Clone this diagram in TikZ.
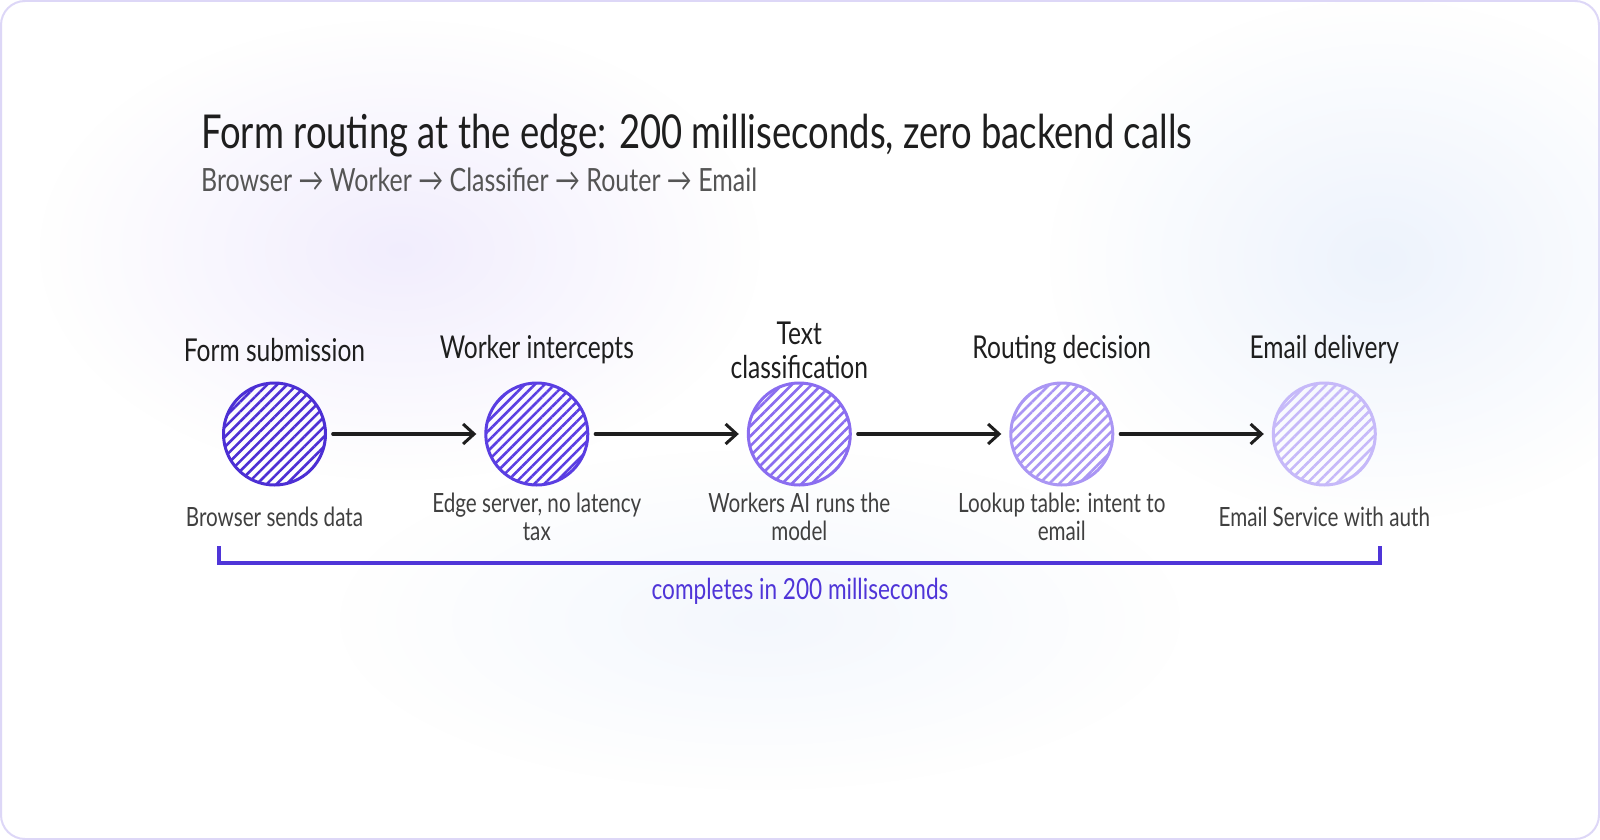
\documentclass[tikz,border=0pt]{standalone}
\usepackage{fontspec}
\setmainfont[FakeStretch=0.78]{Lato}
\usepackage{tikz}
\usetikzlibrary{arrows.meta,positioning,patterns.meta,fadings}
\definecolor{ink}{HTML}{1E1E1E}
\definecolor{greytxt}{HTML}{555555}
\definecolor{desctxt}{HTML}{404040}
\definecolor{indigo}{HTML}{4F35D8}
\definecolor{frame}{HTML}{DDD7F7}
\definecolor{lav}{HTML}{EEE9FD}
\definecolor{sky}{HTML}{E9F0FC}
\definecolor{c1}{HTML}{4C2FD4}
\definecolor{c2}{HTML}{5A3EE2}
\definecolor{c3}{HTML}{8A6DF0}
\definecolor{c4}{HTML}{AA96F4}
\definecolor{c5}{HTML}{C6B9F9}
\tikzfading[name=blob, inner color=transparent!0, outer color=transparent!100]
\tikzstyle{stage} = [circle, minimum size=102pt, inner sep=0pt, line width=3pt]
\tikzstyle{ttl} = [anchor=base west, inner sep=0pt, font=\fontsize{46.7}{52}\selectfont, text=ink]
\tikzstyle{sub} = [anchor=base west, inner sep=0pt, font=\fontsize{32}{36}\selectfont, text=greytxt]
\tikzstyle{lbl} = [align=center, inner sep=0pt, font=\fontsize{31.5}{34}\selectfont, text=ink]
\tikzstyle{dsc} = [align=center, inner sep=0pt, font=\fontsize{26.5}{27.5}\selectfont, text=desctxt]
\tikzstyle{flow} = [-{Straight Barb[length=11pt,width=20pt,line width=3pt]}, line width=3.2pt, ink, line cap=round, shorten <=6pt, shorten >=8pt]
\tikzstyle{brk} = [line width=3.5pt, indigo]
\tikzstyle{note} = [inner sep=0pt, font=\fontsize{29}{32}\selectfont, text=indigo]
\begin{document}
\begin{tikzpicture}[x=1pt, y=-1pt]
		\useasboundingbox (0,0) rectangle (1600,840);
		\draw[rounded corners=24pt, line width=2pt, frame, fill=white] (1,1) rectangle (1599,839);
		\fill[lav, path fading=blob, opacity=0.8] (400,250) ellipse (360 and 230);
		\fill[sky, path fading=blob, opacity=0.8] (1380,260) ellipse (330 and 260);
		\fill[sky, path fading=blob, opacity=0.5] (760,620) ellipse (420 and 170);

		\node[ttl] (title) at (201,148) {Form routing at the edge: 200 milliseconds, zero backend calls};
		\node[sub] (subtitle) at (201,191) {Browser → Worker → Classifier → Router → Email};

		\node[stage, draw=c1, pattern={Lines[angle=45,distance=7pt,line width=2.6pt]}, pattern color=c1] (s1) at (274.5,434) {};
		\node[stage, draw=c2, pattern={Lines[angle=45,distance=7pt,line width=2.6pt]}, pattern color=c2, right=157.5pt of s1] (s2) {};
		\node[stage, draw=c3, pattern={Lines[angle=45,distance=7pt,line width=2.6pt]}, pattern color=c3, right=157.5pt of s2] (s3) {};
		\node[stage, draw=c4, pattern={Lines[angle=45,distance=7pt,line width=2.6pt]}, pattern color=c4, right=157.5pt of s3] (s4) {};
		\node[stage, draw=c5, pattern={Lines[angle=45,distance=7pt,line width=2.6pt]}, pattern color=c5, right=157.5pt of s4] (s5) {};

		\node[lbl, above=84pt of s1.center, anchor=center] (t1) {Form submission};
		\node[lbl, above=84pt of s2.center, anchor=center] (t2) {Worker intercepts};
		\node[lbl, above=84pt of s3.center, anchor=center] (t3) {Text\\classification};
		\node[lbl, above=84pt of s4.center, anchor=center] (t4) {Routing decision};
		\node[lbl, above=84pt of s5.center, anchor=center] (t5) {Email delivery};

		\node[dsc, below=83pt of s1.center, anchor=center] (d1) {Browser sends data};
		\node[dsc, below=83pt of s2.center, anchor=center] (d2) {Edge server, no latency\\tax};
		\node[dsc, below=83pt of s3.center, anchor=center] (d3) {Workers AI runs the\\model};
		\node[dsc, below=83pt of s4.center, anchor=center] (d4) {Lookup table: intent to\\email};
		\node[dsc, below=83pt of s5.center, anchor=center] (d5) {Email Service with auth};

		\draw[flow] (s1) -- (s2);
		\draw[flow] (s2) -- (s3);
		\draw[flow] (s3) -- (s4);
		\draw[flow] (s4) -- (s5);

		\coordinate (bl) at (219,546);
		\coordinate (br) at (1380,546);
		\draw[brk] (bl) -- ++(0,17) -| (br);
		\node[note] (span) at (800,591) {completes in 200 milliseconds};
	\end{tikzpicture}
\end{document}
